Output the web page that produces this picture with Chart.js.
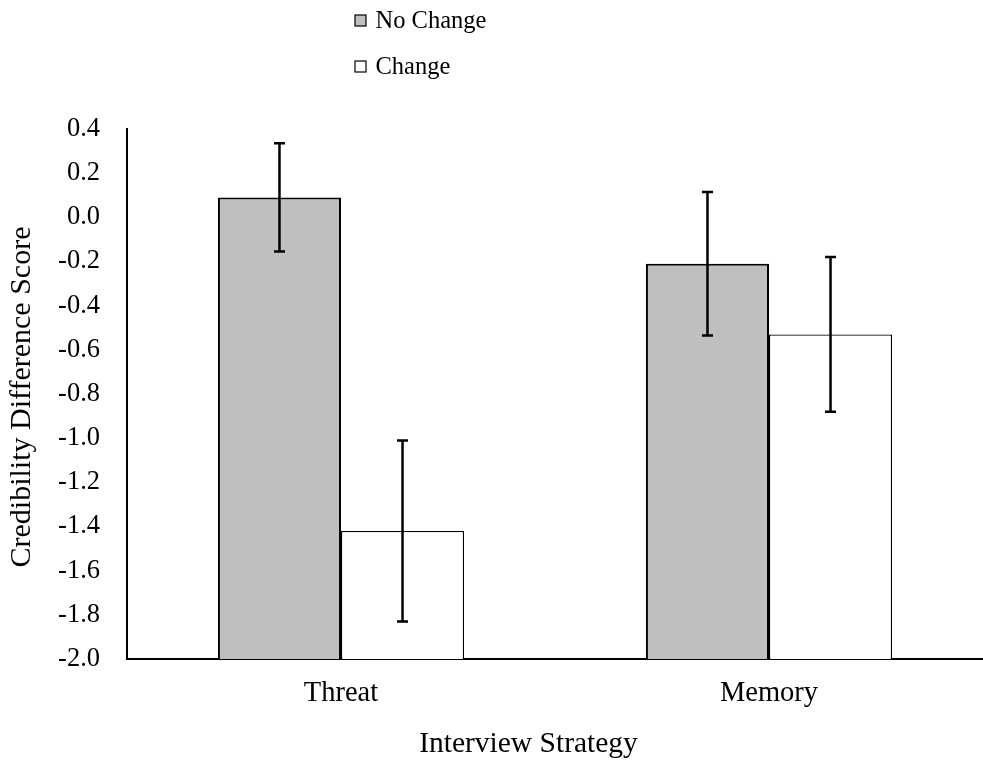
<!DOCTYPE html>
<html>
<head>
<meta charset="utf-8">
<script src="https://cdn.jsdelivr.net/npm/chart.js@4.4.1/dist/chart.umd.min.js"></script>
<style>
  html, body { margin: 0; padding: 0; background: #fff; }
  #wrap { width: 983px; height: 760px; position: relative; }
</style>
</head>
<body>
<div id="wrap"><canvas id="c" width="983" height="760"></canvas></div>
<script>
// Credibility difference scores by interview strategy
const categories = ['Threat', 'Memory'];
const seriesNames = ['No Change', 'Change'];
const noChangeMeans = [0.09, -0.21];
const changeMeans = [-1.42, -0.53];
const noChangeErrors = [0.245, 0.325];
const changeErrors = [0.41, 0.35];
const yTicks = [0.4, 0.2, 0.0, -0.2, -0.4, -0.6, -0.8, -1.0, -1.2, -1.4, -1.6, -1.8, -2.0];
const xTitle = 'Interview Strategy';
const yTitle = 'Credibility Difference Score';

const SERIF = '"Liberation Serif", "Times New Roman", serif';
const fills = ['#BFBFBF', '#FFFFFF'];
const borders = [2, 1.3];

// Vertical error bars with flat caps
const errorBars = {
  id: 'errorBars',
  afterDatasetsDraw(chart) {
    const { ctx, scales: { y } } = chart;
    ctx.save();
    ctx.strokeStyle = '#000';
    ctx.lineWidth = 2.5;
    chart.data.datasets.forEach((ds, i) => {
      const meta = chart.getDatasetMeta(i);
      meta.data.forEach((bar, j) => {
        const v = ds.data[j], e = ds.errors[j];
        const top = y.getPixelForValue(v + e);
        const bot = y.getPixelForValue(v - e);
        const x = bar.x;
        ctx.beginPath();
        ctx.moveTo(x, top); ctx.lineTo(x, bot);
        ctx.moveTo(x - 5.5, top); ctx.lineTo(x + 5.5, top);
        ctx.moveTo(x - 5.5, bot); ctx.lineTo(x + 5.5, bot);
        ctx.stroke();
      });
    });
    ctx.restore();
  }
};

// Stacked legend in the top margin, plus the two axis titles
const annotations = {
  id: 'annotations',
  afterDraw(chart) {
    const { ctx } = chart;
    ctx.save();
    ctx.font = '24.5px ' + SERIF;
    ctx.textBaseline = 'middle';
    ctx.textAlign = 'left';
    const rows = [20.5, 66.5];
    chart.data.datasets.forEach((ds, i) => {
      const cy = rows[i];
      ctx.fillStyle = fills[i];
      ctx.fillRect(355, cy - 5.5, 11, 11);
      ctx.strokeStyle = '#000';
      ctx.lineWidth = 1.2;
      ctx.strokeRect(355, cy - 5.5, 11, 11);
      ctx.fillStyle = '#000';
      ctx.fillText(ds.label, 375.5, cy + 1);
    });

    ctx.fillStyle = '#000';
    ctx.textAlign = 'center';
    ctx.textBaseline = 'middle';
    ctx.font = '29.5px ' + SERIF;
    ctx.fillText(xTitle, 528.5, 744);

    ctx.translate(22, 397);
    ctx.rotate(-Math.PI / 2);
    ctx.font = '30px ' + SERIF;
    ctx.fillText(yTitle, 0, 0);
    ctx.restore();
  }
};

new Chart(document.getElementById('c'), {
  type: 'bar',
  data: {
    labels: categories,
    datasets: [
      { label: seriesNames[0], data: noChangeMeans, errors: noChangeErrors,
        backgroundColor: fills[0], borderColor: '#000', borderWidth: borders[0], base: -2 },
      { label: seriesNames[1], data: changeMeans, errors: changeErrors,
        backgroundColor: fills[1], borderColor: '#000', borderWidth: borders[1], base: -2 }
    ]
  },
  options: {
    responsive: false,
    animation: false,
    devicePixelRatio: 1,
    categoryPercentage: 0.575,
    barPercentage: 1,
    layout: { padding: { top: 129, right: 0, bottom: 0, left: 0 } },
    plugins: {
      legend: { display: false },
      tooltip: { enabled: false }
    },
    scales: {
      x: {
        grid: { display: false, drawTicks: false },
        border: { display: true, color: '#000', width: 2 },
        ticks: { color: '#000', font: { family: SERIF, size: 28.5 }, padding: 17, maxRotation: 0 },
        afterFit(scale) { scale.height = 101; }
      },
      y: {
        min: -2.0,
        max: 0.4,
        afterBuildTicks(scale) { scale.ticks = yTicks.map(v => ({ value: v })); },
        grid: { display: false, drawTicks: false },
        border: { display: true, color: '#000', width: 2 },
        ticks: { color: '#000', font: { family: SERIF, size: 26.5 }, padding: 27,
                 callback: v => v.toFixed(1) },
        afterFit(scale) { scale.width = 127; }
      }
    }
  },
  plugins: [errorBars, annotations]
});
</script>
</body>
</html>
